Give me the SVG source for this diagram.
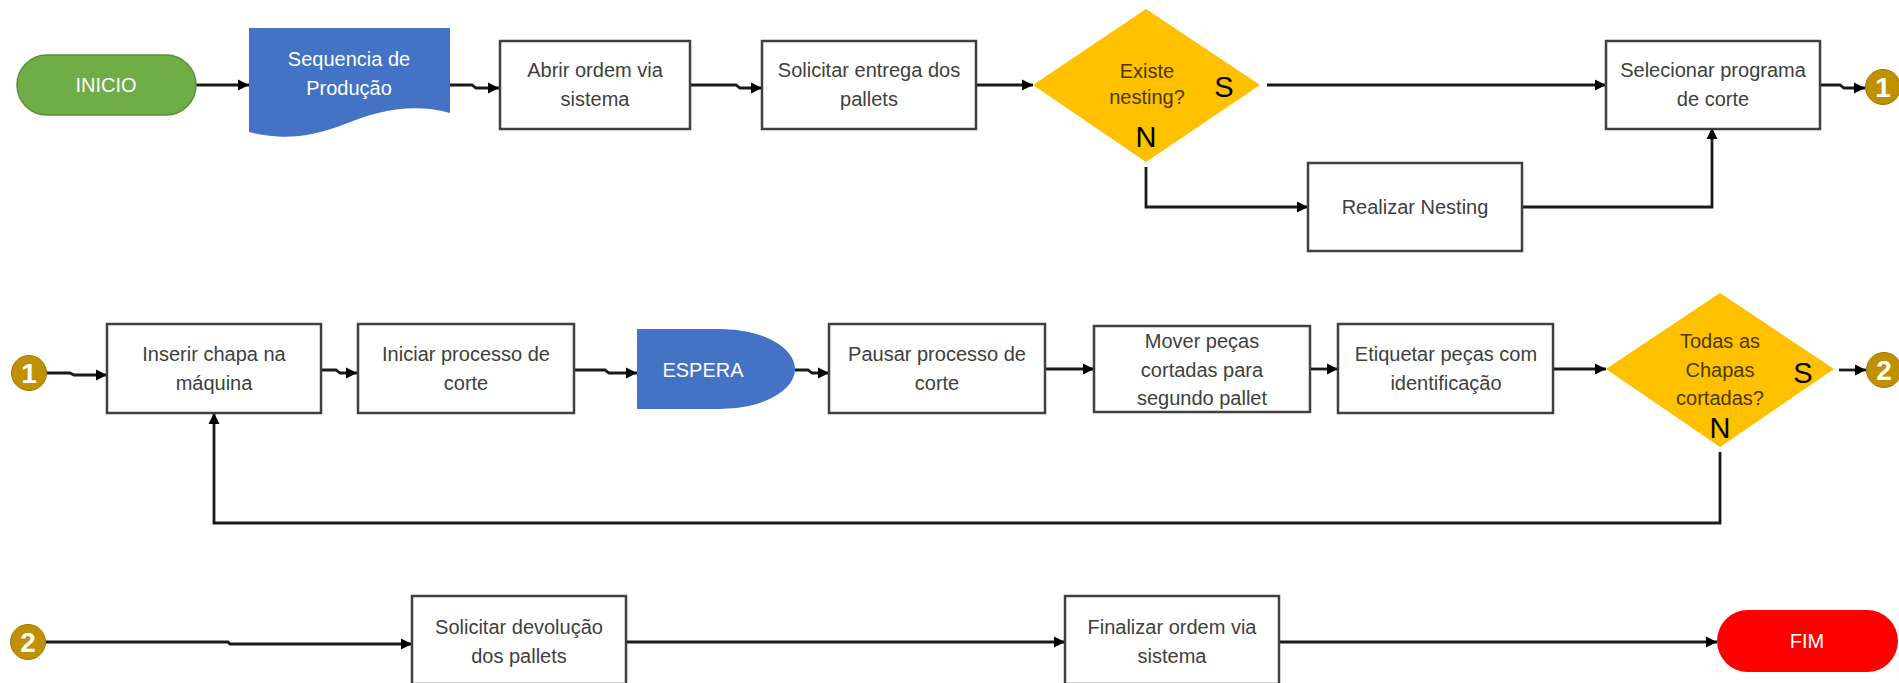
<svg xmlns="http://www.w3.org/2000/svg" width="1899" height="683" viewBox="0 0 1899 683">
<style>
.box{fill:#fff;stroke:#404040;stroke-width:2.5}
.t{font-family:"Liberation Sans",Arial,sans-serif;font-size:20px;fill:#404040;text-anchor:middle}
.w{fill:#fff}
.d{fill:#4a3900}
.big{font-family:"Liberation Sans",Arial,sans-serif;font-size:29px;fill:#000;text-anchor:middle}
.c{fill:#BF9000;stroke:#a07800;stroke-width:1}
.cn{font-family:"Liberation Sans",Arial,sans-serif;font-size:28px;font-weight:bold;fill:#fff;text-anchor:middle}
.ln{fill:none;stroke:#1a1a1a;stroke-width:2.8;marker-end:url(#ah)}
</style>
<defs>
<marker id="ah" viewBox="0 0 10 10" refX="10" refY="5" markerWidth="4" markerHeight="4" orient="auto" markerUnits="strokeWidth">
<path d="M0,0 L10,5 L0,10 Z" fill="#000"/>
</marker>
</defs>
<rect width="1899" height="683" fill="#fff"/>

<g id="connectors">
<path class="ln" d="M196,85 H249"/>
<path class="ln" d="M450,85 H472 L476,88 H499"/>
<path class="ln" d="M690,85 H736 L740,88 H762"/>
<path class="ln" d="M976,85 H1033"/>
<path class="ln" d="M1267,85 H1606"/>
<path class="ln" d="M1146,167 V207 H1308"/>
<path class="ln" d="M1522,207 H1712 V128"/>
<path class="ln" d="M1820,85 H1840 L1844,88 H1865"/>
<path class="ln" d="M46,373 H70 L74,375 H107"/>
<path class="ln" d="M321,370 H336 L340,373 H357"/>
<path class="ln" d="M573,370 H605 L609,373 H637"/>
<path class="ln" d="M795,370 H808 L812,373 H829"/>
<path class="ln" d="M1045,369 H1094"/>
<path class="ln" d="M1310,369 H1338"/>
<path class="ln" d="M1553,369 H1606"/>
<path class="ln" d="M1839,370 H1866"/>
<path class="ln" d="M1720,452 V523 H214 V413"/>
<path class="ln" d="M45,642 H228 L230,644 H412"/>
<path class="ln" d="M626,642 H1065"/>
<path class="ln" d="M1279,642 H1717"/>
</g>

<g id="inicio">
<rect x="17" y="55" width="179" height="60" rx="30" fill="#70AD47" stroke="#5a9038" stroke-width="1.5"/>
<text class="t w" x="106" y="92">INICIO</text>
</g>

<g id="sequencia">
<path d="M249,28 H450 V113 C410,102 375,112 345,124 C310,138 280,140 249,132 Z" fill="#4472C4"/>
<text class="t w" x="349" y="66">Sequencia de</text>
<text class="t w" x="349" y="95">Produção</text>
</g>

<g id="abrir">
<rect class="box" x="500" y="41" width="190" height="88"/>
<text class="t" x="595" y="77">Abrir ordem via</text>
<text class="t" x="595" y="106">sistema</text>
</g>

<g id="solicitar-entrega">
<rect class="box" x="762" y="41" width="214" height="88"/>
<text class="t" x="869" y="77">Solicitar entrega dos</text>
<text class="t" x="869" y="106">pallets</text>
</g>

<g id="existe-nesting">
<polygon points="1146,9 1260,85 1146,162 1033,85" fill="#FFC000"/>
<text class="t d" x="1147" y="78">Existe</text>
<text class="t d" x="1147" y="104">nesting?</text>
<text class="big" x="1224" y="97">S</text>
<text class="big" x="1146" y="147">N</text>
</g>

<g id="selecionar">
<rect class="box" x="1606" y="41" width="214" height="88"/>
<text class="t" x="1713" y="77">Selecionar programa</text>
<text class="t" x="1713" y="106">de corte</text>
</g>

<g id="realizar-nesting">
<rect class="box" x="1308" y="163" width="214" height="88"/>
<text class="t" x="1415" y="214">Realizar Nesting</text>
</g>

<g id="con1-out">
<circle class="c" cx="1883" cy="87" r="17.5"/>
<text class="cn" x="1883" y="97">1</text>
</g>

<g id="con1-in">
<circle class="c" cx="29" cy="373" r="17.5"/>
<text class="cn" x="29" y="383">1</text>
</g>

<g id="inserir">
<rect class="box" x="107" y="324" width="214" height="89"/>
<text class="t" x="214" y="361">Inserir chapa na</text>
<text class="t" x="214" y="390">máquina</text>
</g>

<g id="iniciar">
<rect class="box" x="358" y="324" width="216" height="89"/>
<text class="t" x="466" y="361">Iniciar processo de</text>
<text class="t" x="466" y="390">corte</text>
</g>

<g id="espera">
<path d="M637,329 H720 A75,40 0 0 1 720,409 H637 Z" fill="#4472C4"/>
<text class="t w" x="703" y="377">ESPERA</text>
</g>

<g id="pausar">
<rect class="box" x="829" y="324" width="216" height="89"/>
<text class="t" x="937" y="361">Pausar processo de</text>
<text class="t" x="937" y="390">corte</text>
</g>

<g id="mover">
<rect class="box" x="1094" y="326" width="216" height="86"/>
<text class="t" x="1202" y="348">Mover peças</text>
<text class="t" x="1202" y="377">cortadas para</text>
<text class="t" x="1202" y="405">segundo pallet</text>
</g>

<g id="etiquetar">
<rect class="box" x="1338" y="324" width="215" height="89"/>
<text class="t" x="1446" y="361">Etiquetar peças com</text>
<text class="t" x="1446" y="390">identificação</text>
</g>

<g id="todas-chapas">
<polygon points="1720,293 1834,369 1720,447 1606,369" fill="#FFC000"/>
<text class="t d" x="1720" y="348">Todas as</text>
<text class="t d" x="1720" y="377">Chapas</text>
<text class="t d" x="1720" y="405">cortadas?</text>
<text class="big" x="1803" y="383">S</text>
<text class="big" x="1720" y="438">N</text>
</g>

<g id="con2-out">
<circle class="c" cx="1884" cy="370" r="17.5"/>
<text class="cn" x="1884" y="380">2</text>
</g>

<g id="con2-in">
<circle class="c" cx="28" cy="642" r="17.5"/>
<text class="cn" x="28" y="652">2</text>
</g>

<g id="solicitar-devolucao">
<rect class="box" x="412" y="596" width="214" height="88"/>
<text class="t" x="519" y="634">Solicitar devolução</text>
<text class="t" x="519" y="663">dos pallets</text>
</g>

<g id="finalizar">
<rect class="box" x="1065" y="596" width="214" height="88"/>
<text class="t" x="1172" y="634">Finalizar ordem via</text>
<text class="t" x="1172" y="663">sistema</text>
</g>

<g id="fim">
<rect x="1717" y="610" width="181" height="62" rx="31" fill="#FF0000"/>
<text class="t w" x="1807" y="648">FIM</text>
</g>
</svg>
